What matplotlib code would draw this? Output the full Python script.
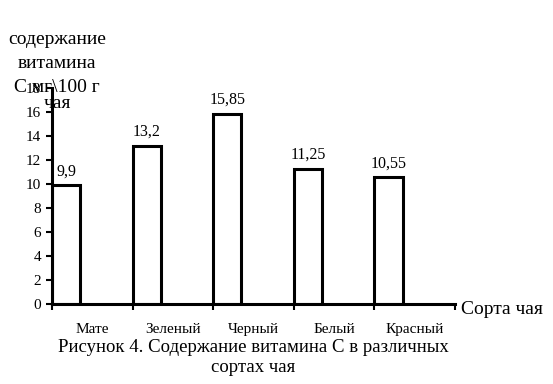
import matplotlib
matplotlib.use("Agg")
import matplotlib.pyplot as plt

categories = ["Мате", "Зеленый", "Черный", "Белый", "Красный"]
values = [9.9, 13.2, 15.85, 11.25, 10.55]
value_labels = ["9,9", "13,2", "15,85", "11,25", "10,55"]
yticks = [0, 2, 4, 6, 8, 10, 12, 14, 16, 18]

plt.rcParams['font.family'] = ['Liberation Serif', 'DejaVu Serif']

fig = plt.figure(figsize=(5.53, 3.84), dpi=100)
ax = fig.add_axes([52/553, 1-304/384, (455-52)/553, (304-88)/384])

bw = 0.35
xs = [i - 0.5 + bw/2 for i in range(len(categories))]
ax.bar(xs, values, width=bw, color="white", edgecolor="black", linewidth=2.2, zorder=3)
for x, v, lab in zip(xs, values, value_labels):
    ax.text(x, v + 0.5, lab, ha="center", va="bottom", fontsize=11.5)

ax.set_xlim(-0.5, len(categories) - 0.5)
ax.set_ylim(0, 18)
ax.set_yticks(yticks)
ax.set_yticklabels([str(t) for t in yticks], fontsize=11)
ax.set_xticks([i - 0.5 for i in range(len(categories) + 1)])
ax.set_xticklabels([])
ax.set_xticks(range(len(categories)), minor=True)
ax.set_xticklabels(categories, minor=True, fontsize=11)
ax.tick_params(axis="x", which="minor", length=0, pad=14)
ax.tick_params(axis="x", which="major", length=4, width=1.5, direction="out")
ax.tick_params(axis="y", length=4, width=1.5, direction="out", pad=4)

for s in ["top", "right"]:
    ax.spines[s].set_visible(False)
for s in ["left", "bottom"]:
    ax.spines[s].set_linewidth(2.2)
    ax.spines[s].set_zorder(4)

fig.text(461/553, 1-310/384, "Сорта чая", ha="left", va="center", fontsize=14)

ylab_lines = [("содержание", 40), ("витамина", 63), ("С мг\\100 г", 87), ("чая", 103)]
for txt, y in ylab_lines:
    fig.text(57/553, 1-y/384, txt, ha="center", va="center", fontsize=14)

fig.text(253/553, 1-347/384, "Рисунок 4. Содержание витамина С в различных", ha="center", va="center", fontsize=13.5)
fig.text(253/553, 1-368/384, "сортах чая", ha="center", va="center", fontsize=13.5)

fig.savefig("out.png", dpi=100)
